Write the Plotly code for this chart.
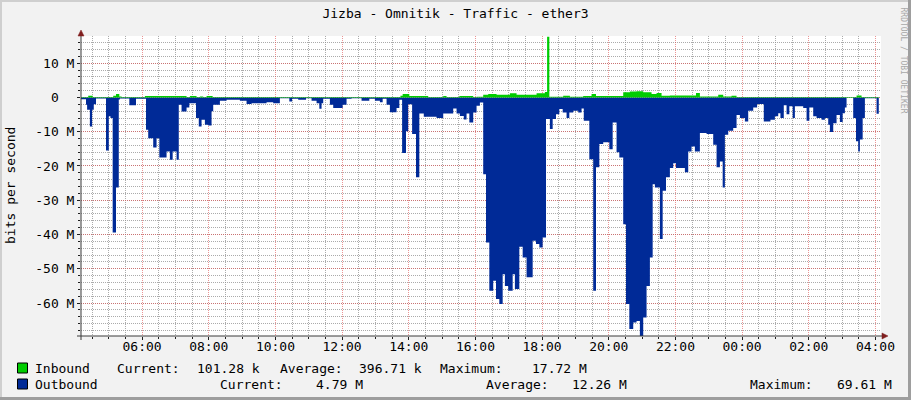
import plotly.graph_objects as go
from datetime import datetime, timedelta

# ---------------- data ----------------
TITLE = "Jizba - Omnitik - Traffic - ether3"
Y_LABEL = "bits per second"
WATERMARK = "RRDTOOL / TOBI OETIKER"
START = datetime(2024, 1, 1, 4, 10)
SPAN_MIN = 1440

# Outbound (Mbit/s, drawn negative) : minute offset from START where each step begins
out_t = [0, 9, 11, 16, 20, 23, 27, 45, 50, 53, 57, 63, 68, 70, 87, 99, 117, 121, 130, 136,
         141, 154, 160, 165, 172, 176, 181, 190, 195, 207, 212, 217, 223, 229, 235, 238, 250,
         262, 286, 298, 307, 334, 346,
         358, 375, 380, 391, 405, 415, 424, 429, 433, 436, 448, 454, 471, 478, 487, 505, 519,
         529, 538, 543, 550, 556, 568, 573, 578, 585, 589, 596, 603, 609, 617, 640, 652, 670,
         676, 682, 689, 694, 699, 706, 712, 718, 724, 729, 735, 742, 747, 753, 759, 763, 769,
         777, 781, 789, 795, 802, 813, 819, 825, 831, 837, 844, 849, 855, 861, 867, 874, 879,
         886, 895, 901, 905, 915, 922, 927, 933, 940, 951, 957, 964, 969, 976, 981, 987, 994,
         1000, 1006, 1012, 1018, 1024, 1029, 1033, 1042, 1047, 1053,
         1060, 1066, 1071, 1087, 1093, 1099, 1105, 1114, 1126, 1138, 1144, 1150, 1155, 1159,
         1165, 1174, 1180, 1186, 1195, 1201, 1210, 1217, 1229, 1241, 1249, 1255, 1259, 1265,
         1270, 1275, 1281, 1285, 1300, 1306, 1311, 1318, 1324, 1333, 1339, 1345, 1348, 1354,
         1360, 1366, 1371, 1375, 1378, 1390, 1395, 1399, 1402, 1407, 1411, 1432, 1436]
out_v = [-0.5, -2.1, -3.6, -8.5, -3.6, -2.0, -0.3, -15.5, -5.5, -6.0, -39.4, -26.3, -0.6, -0.3,
         -2.3, -0.4, -9.4, -11.9, -14.6, -11.9, -17.5, -15.8, -18.2, -15.8, -18.2, -2.1, -4.1,
         -2.9, -1.7, -6.0, -8.5, -6.5, -8.0, -8.2, -4.0, -2.1, -1.0, -0.7, -1.0, -1.9, -1.7,
         -1.4, -1.7,
         -0.2, -1.2, -0.4, -0.7, -0.2, -1.0, -1.7, -3.3, -1.7, -0.4, -2.1, -3.1, -2.1, -0.4,
         -0.2, -1.0, -0.4, -1.0, -1.4, -0.4, -2.1, -4.3, -3.1, -0.7, -16.2, -9.9, -2.0, -10.7,
         -23.3, -4.7, -5.6, -6.0, -4.7, -3.2, -4.7, -5.4, -6.4, -4.7, -7.3, -4.4, -2.4, -1.5,
         -22.4, -42.3, -56.4, -53.5, -58.8, -60.3, -51.6, -55.0, -56.4, -51.6, -55.9, -43.6,
         -46.7, -52.5, -41.8, -42.8, -43.8, -40.9, -6.3, -9.2, -6.3, -4.9, -3.4, -4.4, -6.0,
         -4.4, -3.9, -4.4, -3.2, -6.8, -18.0, -56.4, -20.4, -13.6, -13.1, -15.1, -7.3, -16.0,
         -17.5, -37.0, -60.3, -67.6, -65.7, -65.2, -69.61, -64.2, -55.0, -46.7, -25.3, -26.3,
         -41.3, -27.2, -23.3,
         -20.6, -19.2, -20.6, -21.8, -15.8, -14.3, -15.8, -10.4, -10.7, -13.8, -20.4, -18.7,
         -26.3, -10.9, -9.7, -8.9, -5.1, -6.0, -7.0, -3.9, -2.9, -1.9, -7.0, -6.5, -5.5, -4.6,
         -6.0, -2.3, -4.9, -2.6, -6.0, -2.6, -3.1, -6.8, -2.9, -5.5, -6.0, -6.5, -6.0, -8.0,
         -10.1, -7.5, -5.1, -7.2, -4.6, -2.9, -0.1, -6.0, -12.8, -15.8, -12.3, -6.0, -0.2,
         -4.79, -4.79]

# Inbound (Mbit/s)
in_t = [0, 13, 21, 58, 63, 69, 73, 115, 190, 196, 208, 214, 220, 226, 237, 575, 579, 591, 625,
        652, 658, 681, 706, 712, 724, 733, 748, 772, 784, 820, 835, 839, 843, 868, 880, 904,
        919, 927, 976, 988, 1000, 1012, 1027, 1036, 1045, 1060, 1107, 1114, 1147, 1156, 1171,
        1180, 1396, 1405, 1436]
in_v = [0.1, 0.5, 0.1, 0.5, 1.0, 0.3, 0.1, 0.4, 0.1, 0.4, 0.1, 0.3, 0.1, 0.4, 0.1, 0.5, 1.0,
        0.4, 0.1, 0.4, 0.1, 0.4, 0.1, 0.2, 0.8, 1.0, 0.8, 1.2, 0.8, 1.2, 1.6, 17.72, 0.2, 0.5,
        0.2, 0.4, 1.0, 0.4, 1.5, 1.7, 1.8, 1.5, 1.0, 1.3, 0.5, 0.6, 1.3, 0.3, 0.8, 0.3, 0.5,
        0.1, 0.6, 0.1, 0.1]

y_tick_vals = [10, 0, -10, -20, -30, -40, -50, -60]
y_tick_text = ["10 M", "0", "-10 M", "-20 M", "-30 M", "-40 M", "-50 M", "-60 M"]
Y_MIN, Y_MAX = -69.61, 17.93

series_names = ["Inbound", "Outbound"]
series_colors = ["#00CC00", "#002A97"]
stat_labels = ["Current:", "Average:", "Maximum:"]
inbound_stats = ["101.28 k", "396.71 k", "17.72 M"]
outbound_stats = ["4.79 M", "12.26 M", "69.61 M"]

# ---------------- layout helpers ----------------
W, H = 911, 400
L, R, T, B = 81, 881, 36, 336


def PX(x):
    return (x - L) / (R - L)


def PY(y):
    return (B - y) / (B - T)


FONT = "DejaVu Sans Mono"
ts = lambda mins: [START + timedelta(minutes=m) for m in mins]

fig = go.Figure()
fig.add_trace(go.Scatter(x=ts(out_t), y=out_v, mode="lines", line=dict(width=0, shape="hv"),
                         fill="tozeroy", fillcolor=series_colors[1], name=series_names[1],
                         hoverinfo="skip"))
fig.add_trace(go.Scatter(x=ts(in_t), y=in_v, mode="lines", line=dict(width=0, shape="hv"),
                         fill="tozeroy", fillcolor=series_colors[0], name=series_names[0],
                         hoverinfo="skip"))

MINOR_GRID = "rgba(143,143,143,0.75)"
MAJOR_GRID = "rgba(222,79,79,0.6)"
DASH = "1px,1px"

fig.update_xaxes(
    type="date", range=[START, START + timedelta(minutes=SPAN_MIN)],
    tick0="2024-01-01 06:00", dtick=2 * 3600 * 1000, tickformat="%H:%M",
    showgrid=True, gridcolor=MAJOR_GRID, griddash=DASH, gridwidth=1,
    minor=dict(dtick=30 * 60 * 1000, showgrid=True, gridcolor=MINOR_GRID, griddash=DASH,
               ticks="outside", ticklen=2, tickcolor="#1F1F1F"),
    ticks="outside", ticklen=3, tickcolor="#1F1F1F", ticklabelstandoff=-5,
    showline=False, zeroline=False, fixedrange=True,
    tickfont=dict(family=FONT, size=13, color="#000000"),
)
fig.update_yaxes(
    range=[Y_MIN, Y_MAX], tickvals=y_tick_vals,
    ticktext=[t if t != "0" else t + "\u00a0\u00a0" for t in y_tick_text],
    showgrid=True, gridcolor=MAJOR_GRID, griddash=DASH, gridwidth=1,
    minor=dict(dtick=2, tick0=0, showgrid=True, gridcolor=MINOR_GRID, griddash=DASH,
               ticks="outside", ticklen=2, tickcolor="#1F1F1F"),
    ticks="outside", ticklen=3, tickcolor="#1F1F1F",
    showline=False, zeroline=False, fixedrange=True,
    tickfont=dict(family=FONT, size=13, color="#000000"),
)

shapes = []
AXIS = "#3a3a3a"
ARROW = "#801F1F"
# axis lines
shapes.append(dict(type="line", xref="paper", yref="paper", x0=PX(L), x1=PX(L), y0=PY(340), y1=PY(33),
                   line=dict(color=AXIS, width=1)))
shapes.append(dict(type="line", xref="paper", yref="paper", x0=PX(77), x1=PX(884), y0=PY(B), y1=PY(B),
                   line=dict(color=AXIS, width=1)))
# arrows
shapes.append(dict(type="path", xref="paper", yref="paper",
                   path=f"M {PX(L-3)},{PY(36)} L {PX(L+3)},{PY(36)} L {PX(L)},{PY(30)} Z",
                   fillcolor=ARROW, line=dict(color=ARROW, width=0.5)))
shapes.append(dict(type="path", xref="paper", yref="paper",
                   path=f"M {PX(882)},{PY(B-3)} L {PX(882)},{PY(B+3)} L {PX(888)},{PY(B)} Z",
                   fillcolor=ARROW, line=dict(color=ARROW, width=0.5)))
# frame shading
shapes.append(dict(type="rect", xref="paper", yref="paper", x0=PX(0), x1=PX(W), y0=PY(0), y1=PY(2),
                   fillcolor="#CFCFCF", line=dict(width=0), layer="below"))
shapes.append(dict(type="rect", xref="paper", yref="paper", x0=PX(0), x1=PX(2), y0=PY(0), y1=PY(H),
                   fillcolor="#CFCFCF", line=dict(width=0), layer="below"))
shapes.append(dict(type="rect", xref="paper", yref="paper", x0=PX(W - 3), x1=PX(W), y0=PY(0), y1=PY(H),
                   fillcolor="#9E9E9E", line=dict(width=0)))
shapes.append(dict(type="rect", xref="paper", yref="paper", x0=PX(0), x1=PX(W), y0=PY(H - 3), y1=PY(H),
                   fillcolor="#9E9E9E", line=dict(width=0)))

annotations = []
# y-axis title
annotations.append(dict(text=Y_LABEL, xref="paper", yref="paper", x=PX(10), y=PY(186),
                        textangle=-90, showarrow=False, xanchor="center", yanchor="middle",
                        font=dict(family=FONT, size=13, color="#000000")))
# watermark
annotations.append(dict(text=WATERMARK, xref="paper", yref="paper", x=PX(902.5), y=PY(60),
                        textangle=90, showarrow=False, xanchor="center", yanchor="middle",
                        font=dict(family=FONT, size=8, color="#A8A8A8")))

# legend
legend_y = [368, 384]
swatch_y = [363, 379]
label_x = [[116.7, 279.3, 439.3], [219.3, 485.0, 749.3]]
value_x = [[196.7, 358.3, 531.7], [315.0, 571.0, 836.0]]
stats = [inbound_stats, outbound_stats]
for i in range(2):
    shapes.append(dict(type="rect", xref="paper", yref="paper", x0=PX(17.5), x1=PX(27.5),
                       y0=PY(swatch_y[i]), y1=PY(swatch_y[i] + 10),
                       fillcolor=series_colors[i], line=dict(color="#000000", width=1)))
    annotations.append(dict(text=series_names[i], xref="paper", yref="paper", x=PX(32.5),
                            y=PY(legend_y[i]), showarrow=False, xanchor="left", yanchor="middle",
                            font=dict(family=FONT, size=13, color="#000000")))
    for j in range(3):
        annotations.append(dict(text=stat_labels[j], xref="paper", yref="paper", x=PX(label_x[i][j] - 1.5),
                                y=PY(legend_y[i]), showarrow=False, xanchor="left", yanchor="middle",
                                font=dict(family=FONT, size=13, color="#000000")))
        annotations.append(dict(text=stats[i][j], xref="paper", yref="paper", x=PX(value_x[i][j] - 1.5),
                                y=PY(legend_y[i]), showarrow=False, xanchor="left", yanchor="middle",
                                font=dict(family=FONT, size=13, color="#000000")))

fig.update_layout(
    width=W, height=H, autosize=False,
    margin=dict(l=L, r=W - R, t=T, b=H - B, pad=0),
    paper_bgcolor="#F2F2F2", plot_bgcolor="#FFFFFF",
    showlegend=False,
    title=dict(text=TITLE, x=0.5, xref="container", xanchor="center",
               y=1 - 13 / H, yref="container", yanchor="middle",
               font=dict(family=FONT, size=13, color="#000000")),
    shapes=shapes, annotations=annotations,
)

fig.write_html("out.html", config={"displayModeBar": False},
               post_script="document.body.style.margin='0';document.body.style.overflow='hidden';")
